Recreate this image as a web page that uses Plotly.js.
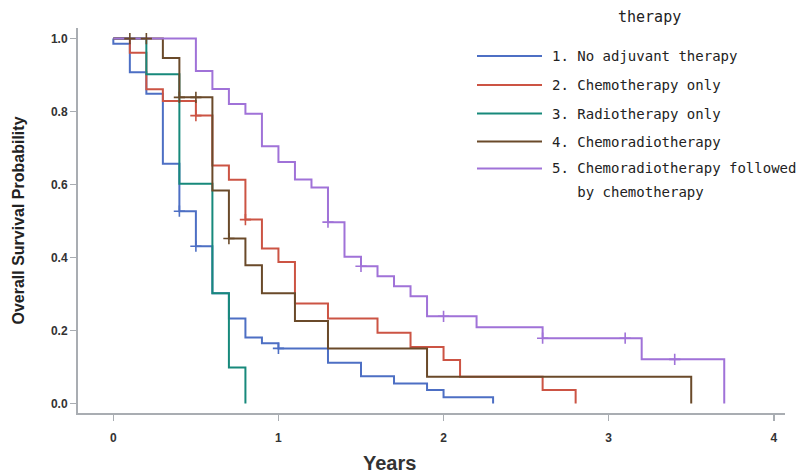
<!DOCTYPE html>
<html>
<head>
<meta charset="utf-8">
<script src="https://cdn.plot.ly/plotly-3.0.1.min.js"></script>
<style>html,body{margin:0;padding:0;background:#fff;}#chart{width:800px;height:473px;}</style>
</head>
<body>
<div id="chart"></div>
<script>
// ---- Data ----
const groupNames = [
  "1. No adjuvant therapy",
  "2. Chemotherapy only",
  "3. Radiotherapy only",
  "4. Chemoradiotherapy",
  "5. Chemoradiotherapy followed\n\u00a0\u00a0\u00a0by chemotherapy"
];
const legendTitle = "therapy";

// Kaplan-Meier step curves: event times (years) and survival after each step
const noAdjTime   = [0, 0, 0.1, 0.2, 0.3, 0.4, 0.5, 0.6, 0.7, 0.8, 0.9, 1.0, 1.3, 1.5, 1.7, 1.9, 2.0, 2.3];
const noAdjSurv   = [1, 0.986, 0.908, 0.849, 0.657, 0.527, 0.431, 0.302, 0.233, 0.181, 0.165, 0.151, 0.112, 0.075, 0.055, 0.037, 0.017, 0];
const chemoTime   = [0, 0.1, 0.2, 0.3, 0.5, 0.6, 0.7, 0.8, 0.9, 1.0, 1.1, 1.3, 1.6, 1.8, 2.0, 2.1, 2.6, 2.8];
const chemoSurv   = [1, 0.961, 0.861, 0.829, 0.789, 0.652, 0.613, 0.504, 0.425, 0.388, 0.274, 0.233, 0.194, 0.155, 0.119, 0.073, 0.037, 0];
const radioTime   = [0, 0.2, 0.4, 0.6, 0.7, 0.8];
const radioSurv   = [1, 0.902, 0.602, 0.302, 0.099, 0];
const chemoRadTime = [0, 0.3, 0.4, 0.6, 0.7, 0.8, 0.9, 1.1, 1.3, 1.9, 3.5];
const chemoRadSurv = [1, 0.947, 0.839, 0.584, 0.452, 0.379, 0.302, 0.226, 0.151, 0.073, 0];
const crtChemoTime = [0, 0.5, 0.6, 0.7, 0.8, 0.9, 1.0, 1.1, 1.2, 1.3, 1.4, 1.5, 1.6, 1.7, 1.8, 1.9, 2.2, 2.6, 3.2, 3.7];
const crtChemoSurv = [1, 0.911, 0.862, 0.821, 0.794, 0.705, 0.662, 0.614, 0.592, 0.497, 0.402, 0.376, 0.349, 0.321, 0.294, 0.239, 0.209, 0.179, 0.121, 0];

// Censored observations
const noAdjCensT = [0.4, 0.5, 1.0];
const noAdjCensS = [0.527, 0.431, 0.151];
const chemoCensT = [0.5, 0.8];
const chemoCensS = [0.789, 0.504];
const radioCensT = [];
const radioCensS = [];
const chemoRadCensT = [0.1, 0.2, 0.4, 0.5, 0.7];
const chemoRadCensS = [1, 1, 0.839, 0.839, 0.452];
const crtChemoCensT = [1.3, 1.5, 2.0, 2.6, 3.1, 3.4];
const crtChemoCensS = [0.497, 0.376, 0.239, 0.179, 0.179, 0.121];

const xTicks = [0, 1, 2, 3, 4];
const yTicks = [0, 0.2, 0.4, 0.6, 0.8, 1.0];

// ---- Styling ----
const colors = ["#4d6fc4", "#cc5444", "#17897b", "#6a4a2a", "#a072d8"];
const curves = [
  [noAdjTime, noAdjSurv, noAdjCensT, noAdjCensS],
  [chemoTime, chemoSurv, chemoCensT, chemoCensS],
  [radioTime, radioSurv, radioCensT, radioCensS],
  [chemoRadTime, chemoRadSurv, chemoRadCensT, chemoRadCensS],
  [crtChemoTime, crtChemoSurv, crtChemoCensT, crtChemoCensS]
];

const traces = [];
curves.forEach((c, i) => {
  traces.push({
    x: c[0], y: c[1], type: "scatter", mode: "lines",
    line: {shape: "hv", color: colors[i], width: 2},
    name: groupNames[i].replace("\n", " "), showlegend: false, hoverinfo: "skip"
  });
});
curves.forEach((c, i) => {
  if (c[2].length) traces.push({
    x: c[2], y: c[3], type: "scatter", mode: "markers",
    marker: {symbol: "cross-thin-open", size: 8, color: colors[i], line: {color: colors[i], width: 1.6}},
    showlegend: false, hoverinfo: "skip"
  });
});

// plot area in pixels
const L = 78, R = 785, T = 28, B = 413;
const px = v => (v - L) / (R - L);
const py = v => (B - v) / (B - T);

const legFont = {family: "DejaVu Sans Mono, Liberation Mono, monospace", size: 14, color: "#222"};
const rowY = [56, 85, 113.5, 141.5, 168.5];
const shapes = [];
const annotations = [];
groupNames.forEach((n, i) => {
  shapes.push({type: "line", xref: "paper", yref: "paper", x0: px(477), x1: px(542), y0: py(rowY[i]), y1: py(rowY[i]),
    line: {color: colors[i], width: 2}});
  n.split("\n").forEach((t, k) => {
    annotations.push({xref: "paper", yref: "paper", x: px(550), y: py(rowY[i] + k * 23), xanchor: "left", yanchor: "middle",
      text: t, showarrow: false, font: legFont});
  });
});
annotations.push({xref: "paper", yref: "paper", x: px(649), y: py(17), xanchor: "center", yanchor: "middle",
  text: legendTitle, showarrow: false, font: {family: legFont.family, size: 15, color: "#222"}});
annotations.push({xref: "paper", yref: "paper", x: px(389), y: py(463), xanchor: "center", yanchor: "middle",
  text: "Years", showarrow: false,
  font: {family: "Liberation Sans Narrow, Liberation Sans, Arial", size: 20, weight: "bold", color: "#333"}});

const tickFont = {family: "Liberation Sans, Arial", size: 12, weight: "bold", color: "#333"};
const layout = {
  width: 800, height: 473,
  margin: {l: L, r: 800 - R, t: T, b: 473 - B},
  paper_bgcolor: "#fff", plot_bgcolor: "#fff",
  showlegend: false,
  xaxis: {
    range: [-0.214, 4.068], tickvals: xTicks, ticktext: xTicks.map(String),
    showgrid: false, zeroline: false, showline: true, linecolor: "#a9adb2", linewidth: 2,
    ticks: "outside", ticklen: 6, tickwidth: 1.5, tickcolor: "#a9adb2", tickfont: tickFont,
    ticklabelstandoff: 7
  },
  yaxis: {
    range: [-0.026, 1.029], tickvals: yTicks, ticktext: yTicks.map(v => v.toFixed(1)),
    showgrid: false, zeroline: false, showline: true, linecolor: "#a9adb2", linewidth: 2,
    ticks: "outside", ticklen: 6, tickwidth: 1.5, tickcolor: "#a9adb2", tickfont: tickFont,
    title: {text: "Overall Survival Probability", standoff: 22,
      font: {family: "Liberation Sans, Arial", size: 16, weight: "bold", color: "#222"}}
  },
  shapes: shapes,
  annotations: annotations
};

Plotly.newPlot("chart", traces, layout, {displayModeBar: false, staticPlot: true});
</script>
</body>
</html>
